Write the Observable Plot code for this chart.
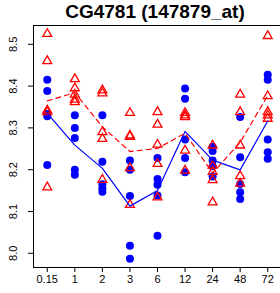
<!DOCTYPE html>
<html>
<head>
<meta charset="utf-8">
<script src="https://cdn.jsdelivr.net/npm/d3@7"></script>
<script src="https://cdn.jsdelivr.net/npm/@observablehq/plot@0.6"></script>
<style>
  body { margin: 0; background: #fff; font-family: "Liberation Sans", Arial, sans-serif; }
  #title { width: 280px; height: 20px; line-height: 20px; padding-top: 2px; padding-left: 30px; box-sizing: border-box;
           text-align: center; font-weight: bold; font-size: 19px; color: #000; white-space: nowrap; }
</style>
</head>
<body>
<div id="title">CG4781 (147879_at)</div>
<div id="chart"></div>
<script>
const times = ["0.15", "1", "2", "3", "6", "12", "24", "48", "72"];
const yTicks = [8.0, 8.1, 8.2, 8.3, 8.4, 8.5];

// blue filled circles (per time point)
const blueValues = [
  [8.415, 8.388, 8.333, 8.328, 8.211],
  [8.330, 8.300, 8.276, 8.200, 8.188],
  [8.330, 8.219, 8.165, 8.155, 8.147],
  [8.222, 8.200, 8.137, 8.018, 7.987],
  [8.228, 8.178, 8.164, 8.138, 8.042],
  [8.394, 8.370, 8.272, 8.228, 8.194],
  [8.255, 8.245, 8.222, 8.208, 8.184],
  [8.326, 8.230, 8.166, 8.146, 8.130],
  [8.427, 8.415, 8.272, 8.242, 8.226]
];

// red open triangles (per time point)
const redValues = [
  [8.525, 8.460, 8.342, 8.338, 8.158],
  [8.417, 8.395, 8.380, 8.368, 8.362],
  [8.390, 8.383, 8.290, 8.274, 8.176],
  [8.336, 8.282, 8.279, 8.204, 8.116],
  [8.338, 8.308, 8.260, 8.214, 8.134],
  [8.336, 8.330, 8.326, 8.246, 8.198],
  [8.258, 8.210, 8.195, 8.175, 8.122],
  [8.380, 8.338, 8.258, 8.185, 8.167],
  [8.520, 8.376, 8.338, 8.330, 8.322]
];

const toPoints = (vals) => vals.flatMap((arr, k) => arr.map(v => ({i: k + 1, v})));
const toMeans = (vals) => vals.map((arr, k) => ({i: k + 1, v: d3.mean(arr)}));

const bluePts = toPoints(blueValues);
const redPts = toPoints(redValues);
const blueMean = toMeans(blueValues);
const redMean = toMeans(redValues);

const yDomain = [7.966, 8.545];
const xDomain = [0.5, 9.5];

const chart = Plot.plot({
  width: 280,
  height: 273,
  marginTop: 5,
  marginBottom: 26,
  marginLeft: 33,
  marginRight: 0,
  style: {fontFamily: "'Liberation Sans', Arial, sans-serif", color: "#000", background: "#fff"},
  x: {domain: xDomain, range: [33, 281], axis: null, label: null},
  y: {domain: yDomain, axis: null, label: null},
  marks: [
    Plot.dot(bluePts, {x: "i", y: "v", r: 4, fill: "#0000ff", stroke: "none"}),
    Plot.dot(redPts, {x: "i", y: "v", symbol: "triangle", r: 3.3, stroke: "#ff0000", strokeWidth: 1.3, fill: "none"}),
    Plot.line(blueMean, {x: "i", y: "v", stroke: "#0000ff", strokeWidth: 1.2}),
    Plot.line(redMean, {x: "i", y: "v", stroke: "#ff0000", strokeWidth: 1.2, strokeDasharray: "5,4"}),
    Plot.ruleY([yDomain[0], yDomain[1]], {stroke: "#000", strokeWidth: 1}),
    Plot.ruleX([xDomain[0]], {stroke: "#000", strokeWidth: 1}),
    Plot.axisX({ticks: d3.range(1, 10), tickFormat: i => times[i - 1], tickSize: 5, tickPadding: 3, fontSize: 11, anchor: "bottom", label: null}),
    Plot.axisY({ticks: yTicks, tickFormat: d3.format(".1f"), tickSize: 5, tickPadding: 12, tickRotate: -90, fontSize: 11, anchor: "left", label: null})
  ]
});
document.getElementById("chart").appendChild(chart);
</script>
</body>
</html>
